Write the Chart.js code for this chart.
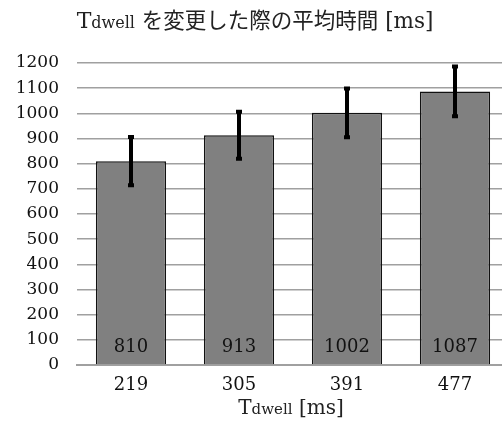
<!DOCTYPE html>
<html>
<head>
<meta charset="utf-8">
<script src="https://cdn.jsdelivr.net/npm/chart.js@4"></script>
<style>
  html, body { margin: 0; padding: 0; background: #fff; overflow: hidden; }
  #wrap { width: 510px; height: 423px; }
</style>
</head>
<body>
<div id="wrap"><canvas id="chart" width="510" height="423"></canvas></div>
<script>
// chart data
const categories = ["219", "305", "391", "477"];
const meanTimes = [810, 913, 1002, 1087];
const errors = [100, 97, 101, 103];
const yTicks = [0, 100, 200, 300, 400, 500, 600, 700, 800, 900, 1000, 1100, 1200];

const serif = '"DejaVu Serif", "Noto Sans CJK JP", serif';

// draws text like "T" + subscript "dwell" + rest, centred at x
function drawSubText(ctx, parts, cx, cy) {
  let total = 0;
  parts.forEach(p => { ctx.font = p.font; total += ctx.measureText(p.text).width; });
  let x = cx - total / 2;
  ctx.textAlign = "left";
  ctx.textBaseline = "alphabetic";
  parts.forEach(p => {
    ctx.font = p.font;
    ctx.fillText(p.text, x, cy);
    x += ctx.measureText(p.text).width;
  });
}

// error bars, value labels and titles
const extras = {
  id: "extras",
  afterDatasetsDraw(chart) {
    const ctx = chart.ctx;
    const y = chart.scales.y;
    const meta = chart.getDatasetMeta(0);
    const area = chart.chartArea;
    ctx.save();
    ctx.strokeStyle = "#000";
    ctx.lineWidth = 4;
    meta.data.forEach((bar, i) => {
      const top = y.getPixelForValue(meanTimes[i] + errors[i]);
      const bot = y.getPixelForValue(meanTimes[i] - errors[i]);
      ctx.beginPath();
      ctx.moveTo(bar.x, top);
      ctx.lineTo(bar.x, bot);
      ctx.moveTo(bar.x - 3, top + 1);
      ctx.lineTo(bar.x + 3, top + 1);
      ctx.moveTo(bar.x - 3, bot - 1);
      ctx.lineTo(bar.x + 3, bot - 1);
      ctx.stroke();
    });
    ctx.fillStyle = "#111";
    ctx.font = "18px " + serif;
    ctx.textAlign = "center";
    ctx.textBaseline = "middle";
    meta.data.forEach((bar, i) => {
      ctx.fillText(String(meanTimes[i]), bar.x, 347);
    });
    ctx.fillStyle = "#222";
    drawSubText(ctx, [
      { text: "T", font: "22px " + serif },
      { text: "dwell", font: "16px " + serif },
      { text: " を変更した際の平均時間 [ms]", font: "21.5px " + serif }
    ], 255, 28);
    drawSubText(ctx, [
      { text: "T", font: "20px " + serif },
      { text: "dwell", font: "15px " + serif },
      { text: " [ms]", font: "20px " + serif }
    ], (area.left + area.right) / 2 - 2, 414);
    ctx.restore();
  }
};

new Chart(document.getElementById("chart"), {
  type: "bar",
  data: {
    labels: categories,
    datasets: [{
      data: meanTimes,
      backgroundColor: "#808080",
      borderColor: "#111",
      borderWidth: 1.5,
      barPercentage: 0.65,
      categoryPercentage: 1
    }]
  },
  options: {
    responsive: false,
    animation: false,
    layout: { padding: { top: 63, right: 1, left: 0, bottom: 0 } },
    plugins: { legend: { display: false }, tooltip: { enabled: false } },
    scales: {
      x: {
        grid: { display: false },
        border: { color: "#a0a0a0", width: 2 },
        ticks: { color: "#111", font: { family: serif, size: 18 }, padding: 2, maxRotation: 0 },
        afterFit: s => { s.height = 58; }
      },
      y: {
        min: 0,
        max: 1200,
        afterBuildTicks: s => { s.ticks = yTicks.map(v => ({ value: v })); },
        grid: { color: "#a0a0a0", lineWidth: 1.5, drawTicks: false },
        border: { display: false },
        ticks: { color: "#111", font: { family: serif, size: 17 }, padding: 18, callback: v => String(v) },
        afterFit: s => { s.width = 77; }
      }
    }
  },
  plugins: [extras]
});
</script>
</body>
</html>
